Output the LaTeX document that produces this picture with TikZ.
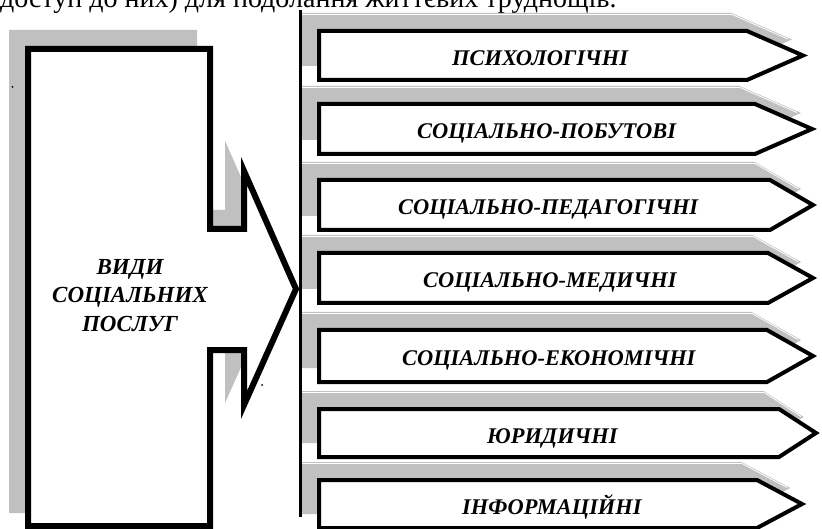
\documentclass[tikz,border=0pt]{standalone}
\usepackage{fontspec}
\setmainfont{Liberation Serif}
\definecolor{shadowgray}{HTML}{C0C0C0}
\begin{document}
\begin{tikzpicture}[x=1pt,y=-1pt,line join=miter,
  shadowpart/.style={fill=shadowgray,draw=shadowgray},
  shadowgleam/.style={draw=white,line width=0.8pt},
  boxline/.style={draw=black,fill=white,line width=4pt},
  bigline/.style={draw=black,fill=white,line width=6pt},
  kind/.style={font=\fontsize{22.4}{26}\selectfont\bfseries\itshape,anchor=base west,inner sep=0pt},
  title/.style={font=\fontsize{23}{26}\selectfont\bfseries\itshape,anchor=base,inner sep=0pt},
  speck/.style={fill=black,draw=none}]
\useasboundingbox (0,0) rectangle (822,529);
\clip (0,0) rectangle (822,529);

% running text above the figure
\node[anchor=base west,inner sep=0pt,font=\fontsize{28}{32}\selectfont] (intro) at (0,8)
  {доступ до них) для подолання життєвих труднощів.};

% shadow of the big arrow
\begin{scope}[shift={(-16,-16)}]
  \draw[shadowpart,line width=6pt] (28,49) -- (210,49) -- (210,229) -- (244,229) -- (244,171)
    -- (296,289) -- (244,405) -- (244,350) -- (210,350) -- (210,526) -- (28,526) -- cycle;
\end{scope}

% shadows of the branch arrows, with a light rim along the upper edge
\foreach \t/\b/\c/\p in {31/80/747/803, 104/154/755/812, 180/230/770/813, 253/303/768/813,
                         330/382/767/813, 409/457/779/816, 480/528/757/802}{
  \begin{scope}[shift={(-16,-16)}]
    \draw[shadowpart,line width=4pt]
      (319,\t) -- (\c,\t) -- (\p,{(\t+\b)/2}) -- (\c,\b) -- (319,\b) -- cycle;
    \draw[shadowgleam] (303,\t-0.5) -- (\c+1,\t-0.5) -- (\p+1,{(\t+\b)/2-0.5});
  \end{scope}
}

% vertical bus
\coordinate (bustop) at (300.5,10);
\coordinate (busbot) at (300.5,517);
\draw[line width=3.5pt] (bustop) -- (busbot);

% big arrow
\draw[bigline] (28,49) -- (210,49) -- (210,229) -- (244,229) -- (244,171)
  -- (296,289) -- (244,405) -- (244,350) -- (210,350) -- (210,526) -- (28,526) -- cycle;
\node[title] (vidy) at (130,275) {ВИДИ};
\node[title] (socialnykh) at (130,303) {СОЦІАЛЬНИХ};
\node[title] (posluh) at (130,332) {ПОСЛУГ};

% branch arrows with their labels
\foreach \t/\b/\c/\p/\x/\n/\lab in {
    31/80/747/803/452/psy/ПСИХОЛОГІЧНІ,
    104/154/755/812/417/pobut/СОЦІАЛЬНО-ПОБУТОВІ,
    180/230/770/813/398/ped/СОЦІАЛЬНО-ПЕДАГОГІЧНІ,
    253/303/768/813/423/med/СОЦІАЛЬНО-МЕДИЧНІ,
    330/382/767/813/402/econ/СОЦІАЛЬНО-ЕКОНОМІЧНІ,
    409/457/779/816/487/jur/ЮРИДИЧНІ,
    480/528/757/802/462/info/ІНФОРМАЦІЙНІ}{
  \draw[boxline] (319,\t) -- (\c,\t) -- (\p,{(\t+\b)/2}) -- (\c,\b) -- (319,\b) -- cycle;
  \node[kind] (\n) at (\x,{(\t+\b)/2+10}) {\lab};
}

% stray specks
\fill[speck] (12.5,87) circle (1pt);
\fill[speck] (262,385) circle (1pt);
\end{tikzpicture}
\end{document}
